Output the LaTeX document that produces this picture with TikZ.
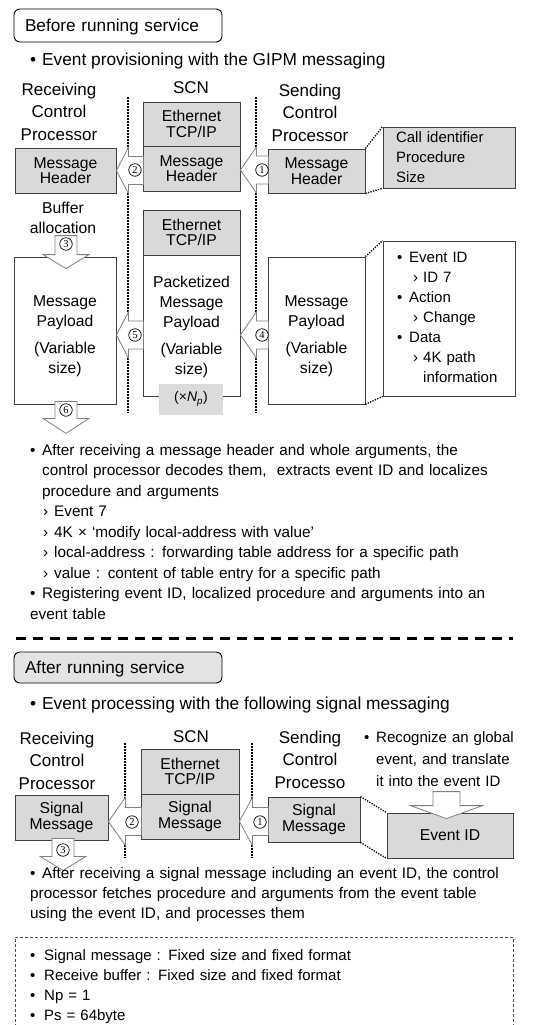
\documentclass[tikz,border=0pt]{standalone}
\usepackage{fontspec}
\setmainfont{Liberation Sans}
\newfontfamily\numfont{Liberation Serif}
\usetikzlibrary{calc}
\newcommand\bul[1][12pt]{\noindent\hangindent=#1\hangafter=1\makebox[#1][l]{\textbullet}}
\newcommand\nbul[1][12pt]{\par\bul[#1]}
\newcommand\subi[2]{\par\noindent\hspace*{#1}\makebox[#2][l]{›}}
\newcommand\larr[5]{\draw[barrow] #1 -- ++(#2,-#5) -- ++(0,{#5-#4}) -- ++(#3,0) -- ++(0,{2*#4}) -- ++(-#3,0) -- ++(0,{#5-#4}) -- cycle;}
\newcommand\darr[5]{\draw[barrow] #1 ++(-#4,0) -- ++(0,#2) -- ++({#4-#5},0) -- ++(#5,#3) -- ++(#5,-#3) -- ++({#4-#5},0) -- ++(0,-#2) -- cycle;}
\tikzset{
 box/.style={draw=black!75, fill=gray!30, line width=0.8pt, inner sep=0pt, align=center, font=\fontsize{15.7}{15.5}\selectfont},
 btxt/.style={align=center, inner sep=0pt, font=\fontsize{15.7}{20}\selectfont},
 hdr/.style={align=center, inner sep=0pt, font=\fontsize{17}{22.5}\selectfont},
 para/.style={anchor=north west, inner sep=0pt, text width=490pt, font=\fontsize{15.3}{20.5}\selectfont},
 line1/.style={anchor=base west, inner sep=0pt, font=\fontsize{17.3}{20}\selectfont},
 title/.style={draw=black, line width=0.9pt, rounded corners=6pt, minimum width=208pt, inner xsep=11pt, text width=186pt, text height=12.5pt, text depth=0pt, align=left, font=\fontsize{17.2}{18}\selectfont},
 dotl/.style={line width=1.5pt, dash pattern=on 1.5pt off 1.5pt},
 conn/.style={line width=1.3pt, dash pattern=on 1.3pt off 1.3pt},
 barrow/.style={draw=gray, fill=white, line width=0.8pt, line join=miter},
 cnum/.style={circle, draw=black, fill=white, line width=0.7pt, inner sep=0pt, minimum size=12.5pt, font=\numfont\fontsize{10.5}{10.5}\selectfont},
}
\begin{document}
\begin{tikzpicture}[x=1pt,y=-1pt]
\useasboundingbox[fill=white] (0,0) rectangle (551,1025);
% ---------- Before running service ----------
\node[title, fill=white, minimum height=33pt] (before) at (118,25.5) {Before running service};
\node[line1] (ev1) at (30,66) {\makebox[12pt][l]{\textbullet}Event provisioning with the GIPM messaging};
\node[hdr] (rcvh) at (59,111.5) {Receiving\\Control\\Processor};
\node[hdr] (scnh) at (191,88) {SCN};
\node[hdr] (sndh) at (310,112.5) {Sending\\Control\\Processor};
\draw[dotl] (128,97) -- (128,413);
\draw[dotl] (256,97) -- (256,413);
\node[box, minimum width=97pt, minimum height=44pt] (e1) at (191.5,124) {Ethernet\\TCP/IP};
\node[box, minimum width=97pt, minimum height=45pt] (h1) at (191.5,168.5) {Message\\Header};
\node[box, minimum width=101pt, minimum height=45pt] (rh) at (65.5,170.5) {Message\\Header};
\node[box, minimum width=97pt, minimum height=44pt] (sh) at (316.5,171) {Message\\Header};
\node[box, minimum height=61pt, inner xsep=13pt, text width=106pt, align=left, font=\fontsize{15}{20}\selectfont] (cid) at (449,157.5) {Call identifier\\Procedure\\Size};
\draw[conn] (sh.north east) -- (cid.north west);
\draw[conn] (sh.south east) -- (cid.south west);
\node[btxt] (buf) at (63,218) {Buffer\\allocation};
\node[box, fill=white, minimum width=102pt, minimum height=147pt] (rp) at (65,330.5) {};
\node[btxt] (rpt) at (65,336.5) {Message\\Payload\\[7pt](Variable\\size)};
\node[box, minimum width=97pt, minimum height=45pt] (e2) at (191.5,232.5) {Ethernet\\TCP/IP};
\node[box, fill=white, minimum width=97pt, minimum height=141pt] (pp) at (191.5,325.5) {};
\node[btxt] (ppt) at (191.5,326.5) {Packetized\\Message\\Payload\\[7pt](Variable\\size)};
\node[fill=gray!28, minimum width=64pt, minimum height=31pt, inner sep=0pt, font=\fontsize{14}{14}\selectfont] (np) at (191,399) {(×\textit{N}\textsubscript{\textit{p}})};
\node[box, fill=white, minimum width=97pt, minimum height=147pt] (sp) at (316.5,330.5) {};
\node[btxt] (spt) at (316.5,336.5) {Message\\Payload\\[7pt](Variable\\size)};
\node[box, fill=white, minimum width=132pt, minimum height=155pt] (dat) at (449,318.5) {};
\node[para, text width=112pt, font=\fontsize{15}{20}\selectfont] (datt) at (397,252) {\bul Event ID\subi{16pt}{10pt}ID 7\nbul Action\subi{16pt}{10pt}Change\nbul Data\subi{16pt}{10pt}4K path\newline\hspace*{26pt}information};
\draw[conn] (sp.north east) -- (dat.north west);
\draw[conn] (sp.south east) -- (dat.south west);
% arrows
\larr{($(h1.east)+(0,1.5)$)}{16}{12}{14}{23}
\larr{(rh.east)}{12}{15}{14}{23}
\larr{($(pp.east)+(0,9.5)$)}{16}{12}{14}{23}
\larr{($(rp.east)+(0,4.5)$)}{12}{15}{14}{23}
\darr{($(rp.north)+(1,-21)$)}{19}{14}{11}{23}
\darr{($(rp.south)+(1,-3)$)}{17}{15}{11}{23}
\node[cnum] (c1) at (262,170) {1};
\node[cnum] (c2) at (135,170) {2};
\node[cnum] (c3) at (66,244) {3};
\node[cnum] (c4) at (262,335) {4};
\node[cnum] (c5) at (135,335) {5};
\node[cnum] (c6) at (66,410) {6};
\node[para] (p1) at (30,444) {\bul After receiving a message header and whole arguments, the\newline control processor decodes them,\ \ extracts event ID and localizes\newline procedure and arguments\subi{13pt}{11pt}Event 7\subi{13pt}{11pt}4K × ‘modify local-address with value’\subi{13pt}{11pt}local-address : forwarding table address for a specific path\subi{13pt}{11pt}value : content of table entry for a specific path\nbul Registering event ID, localized procedure and arguments into an\newline event table};
\draw[line width=3pt, dash pattern=on 10pt off 7pt] (16,638) -- (513,638);
% ---------- After running service ----------
\node[title, fill=gray!22, minimum height=31pt] (after) at (118,667.5) {After running service};
\node[line1] (ev2) at (30,709) {\makebox[12pt][l]{\textbullet}Event processing with the following signal messaging};
\node[hdr] (rcvh2) at (57,760.5) {Receiving\\Control\\Processor};
\node[hdr] (scnh2) at (191,737) {SCN};
\node[hdr] (sndh2) at (310,759.5) {Sending\\Control\\Processo};
\draw[dotl] (125,743) -- (125,858);
\draw[dotl] (252,743) -- (252,858);
\node[box, minimum width=98pt, minimum height=45pt] (e3) at (190,771.5) {Ethernet\\TCP/IP};
\node[box, minimum width=98pt, minimum height=45pt] (s3) at (190,816.5) {Signal\\Message};
\node[box, minimum width=93pt, minimum height=45pt] (rs) at (61.5,817.5) {Signal\\Message};
\node[box, minimum width=92pt, minimum height=45pt] (ss) at (314,819.5) {Signal\\Message};
\node[box, minimum width=126pt, minimum height=45pt] (eid) at (450,835.5) {Event ID};
\draw[conn] (ss.north east) -- (eid.north west);
\draw[conn] (ss.south east) -- (eid.south west);
\node[para, text width=185pt, font=\fontsize{15}{22}\selectfont] (rec) at (364,731) {\bul Recognize an global\newline\hspace*{12pt}event, and translate\newline\hspace*{12pt}it into the event ID};
\darr{($(eid.north)+(-3.5,-21)$)}{14}{13}{13.5}{36}
\larr{($(s3.east)+(0,5)$)}{13}{16}{14}{24}
\larr{($(rs.east)+(0,4)$)}{17}{16}{14}{24}
\darr{($(rs.south)+(1.5,-2)$)}{18}{14}{11}{23}
\node[cnum] (d1) at (260,822) {1};
\node[cnum] (d2) at (132,822) {2};
\node[cnum] (d3) at (63,850) {3};
\node[para, font=\fontsize{15.3}{20}\selectfont] (p2) at (30,867) {\bul After receiving a signal message including an event ID, the control\newline processor fetches procedure and arguments from the event table\newline using the event ID, and processes them};
\draw[line width=0.6pt, draw=black!70, dash pattern=on 3pt off 2pt] (15,1027) -- (15,937) -- (513,937) -- (513,1027);
\node[para, font=\fontsize{15}{20}\selectfont] (p3) at (30,949) {\bul[14pt]Signal message : Fixed size and fixed format\nbul[14pt]Receive buffer : Fixed size and fixed format\nbul[14pt]Np = 1\nbul[14pt]Ps = 64byte};
\end{tikzpicture}
\end{document}
